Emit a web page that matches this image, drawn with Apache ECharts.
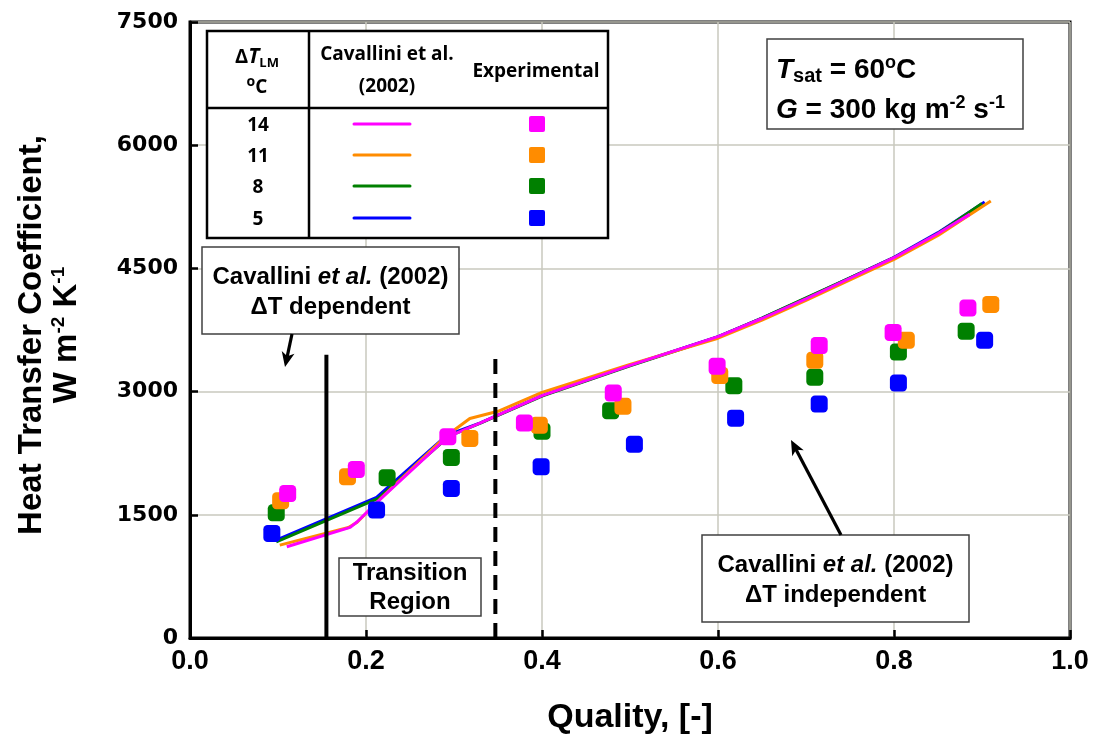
<!DOCTYPE html>
<html><head><meta charset="utf-8">
<script src="https://cdn.jsdelivr.net/npm/echarts@6/dist/echarts.min.js"></script>
<style>html,body{margin:0;padding:0;background:#fff}#c{width:1094px;height:749px}</style>
</head><body><div id="c"></div>
<script>
// ---- Data (quality x, heat transfer coefficient W m^-2 K^-1) ----
const expDT14 = [[0.111,1760],[0.189,2052],[0.293,2449],[0.380,2619],[0.481,2984],[0.599,3309],[0.715,3561],[0.799,3719],[0.884,4018]];
const expDT11 = [[0.103,1670],[0.179,1962],[0.318,2429],[0.397,2591],[0.492,2822],[0.602,3195],[0.710,3382],[0.814,3625],[0.910,4060]];
const expDT8  = [[0.098,1524],[0.224,1950],[0.297,2198],[0.400,2518],[0.478,2766],[0.618,3070],[0.710,3175],[0.805,3483],[0.882,3735]];
const expDT5  = [[0.093,1273],[0.212,1557],[0.297,1821],[0.399,2084],[0.505,2360],[0.620,2677],[0.715,2849],[0.805,3106],[0.903,3625]];

const cavDT14 = [[0.110,1111],[0.182,1347],[0.190,1415],[0.216,1687],[0.293,2450],[0.330,2620],[0.400,2950],[0.500,3320],[0.600,3670],[0.650,3890],[0.700,4130],[0.750,4380],[0.800,4630],[0.850,4925],[0.886,5158]];
const cavDT11 = [[0.102,1131],[0.180,1345],[0.190,1410],[0.216,1690],[0.290,2450],[0.318,2673],[0.350,2760],[0.400,2990],[0.500,3330],[0.600,3650],[0.650,3870],[0.700,4110],[0.750,4360],[0.800,4610],[0.850,4900],[0.910,5320]];
const cavDT8  = [[0.098,1170],[0.214,1700],[0.295,2460],[0.330,2615],[0.400,2945],[0.500,3315],[0.600,3665],[0.650,3895],[0.700,4140],[0.750,4385],[0.800,4630],[0.850,4925],[0.900,5290]];
const cavDT5  = [[0.098,1192],[0.212,1711],[0.292,2470],[0.330,2620],[0.400,2950],[0.500,3320],[0.600,3670],[0.650,3895],[0.700,4135],[0.750,4385],[0.800,4635],[0.850,4935],[0.903,5308]];

const solidBoundary  = [[0.155,0],[0.155,3450]];
const dashedBoundary = [[0.347,0],[0.347,3460]];

const legendRows = ['14','11','8','5'];
const colors = ['#FF00FF','#FF8C00','#008000','#0000FF'];

// ---- Chart ----
const chart = echarts.init(document.getElementById('c'), null, {renderer:'canvas'});
const AR = 'Liberation Sans, Arial, sans-serif';
const NAR = '"Liberation Sans Narrow", "Liberation Sans", Arial, sans-serif';
const CAL = '"Open Sans", Lato, sans-serif';

function lineSeries(name, data, color){
  return {name, type:'line', data, showSymbol:false, smooth:false, z:3,
    lineStyle:{color, width:3}, emphasis:{disabled:true}, silent:true};
}
function scatterSeries(name, data, color){
  return {name, type:'scatter', data, symbol:'roundRect', symbolSize:17, z:4,
    itemStyle:{color, opacity:1}, emphasis:{disabled:true}, silent:true};
}
function boundary(data, type){
  return {type:'line', data, showSymbol:false, z:5, silent:true,
    lineStyle:{color:'#000', width:4, type, cap:'butt'}};
}

const G = [];
function rect(x,y,w,h,stroke,lw){ G.push({type:'rect', z:100, shape:{x,y,width:w,height:h}, style:{fill:'#fff', stroke, lineWidth:lw}}); }
function seg(x1,y1,x2,y2,stroke,lw){ G.push({type:'line', z:101, shape:{x1,y1,x2,y2}, style:{stroke, lineWidth:lw}}); }
function txt(x,y,text,rich,align){
  G.push({type:'text', z:102, x, y, style:{text, rich, align:align||'center', verticalAlign:'middle', fill:'#000'}});
}
function arrow(x1,y1,x2,y2){
  const dx=x2-x1, dy=y2-y1, L=Math.hypot(dx,dy), ux=dx/L, uy=dy/L;
  const hl=15, hw=6.5;
  const bx=x2-ux*hl, by=y2-uy*hl;
  seg(x1,y1,x2-ux*6,y2-uy*6,'#000',3.2);
  G.push({type:'polygon', z:101, shape:{points:[[x2,y2],[bx-uy*hw,by+ux*hw],[bx+ux*4,by+uy*4],[bx+uy*hw,by-ux*hw]]}, style:{fill:'#000'}});
}

const bold24 = {b:{fontFamily:AR, fontWeight:'bold', fontSize:24}, i:{fontFamily:AR, fontWeight:'bold', fontStyle:'italic', fontSize:24}};

// Legend table
rect(207,31,401,207,'#000',2.5);
seg(207,108,608,108,'#000',2.5);
seg(309,31,309,238,'#000',2.5);
const cal = {
  n:{fontFamily:CAL, fontWeight:'bold', fontSize:19, lineHeight:26},
  d:{fontFamily:CAL, fontWeight:'bold', fontSize:20, lineHeight:26},
  it:{fontFamily:CAL, fontWeight:'bold', fontStyle:'italic', fontSize:21, lineHeight:26},
  sub:{fontFamily:CAL, fontWeight:'bold', fontSize:13, verticalAlign:'bottom', lineHeight:12},
  sup:{fontFamily:CAL, fontWeight:'bold', fontSize:14, verticalAlign:'top', lineHeight:12}};
txt(257,57,'{d|Δ}{it|T}{sub|LM}',cal);
txt(257,88,'{sup|o}{n|C}',cal);
txt(387,55,'{n|Cavallini et al.}',cal);
txt(387,87,'{n|(2002)}',cal);
txt(536,72,'{n|Experimental}',cal);
const rowY=[126,157,188,220];
legendRows.forEach((r,i)=>{
  txt(258,rowY[i],'{n|'+r+'}',cal);
  G.push({type:'line', z:101, shape:{x1:354,y1:rowY[i]-2,x2:410,y2:rowY[i]-2}, style:{stroke:colors[i], lineWidth:3, lineCap:'round'}});
  G.push({type:'rect', z:101, shape:{x:529,y:rowY[i]-10,width:16,height:16,r:2}, style:{fill:colors[i]}});
});

// Tsat box
rect(767,39,256,90,'#404040',1.5);
const big = {b:{fontFamily:AR, fontWeight:'bold', fontSize:28, lineHeight:32}, i:{fontFamily:AR, fontWeight:'bold', fontStyle:'italic', fontSize:28, lineHeight:32},
  sub:{fontFamily:AR, fontWeight:'bold', fontSize:20, verticalAlign:'bottom', lineHeight:8},
  sup:{fontFamily:AR, fontWeight:'bold', fontSize:18, verticalAlign:'top', lineHeight:12}};
txt(776,70,'{i|T}{sub|sat}{b| = 60}{sup|o}{b|C}',big,'left');
txt(776,110,'{i|G}{b| = 300 kg m}{sup|-2}{b| s}{sup|-1}',big,'left');

// Annotation boxes
rect(202,247,257,87,'#404040',1.5);
txt(330.5,277,'{b|Cavallini }{i|et al.}{b| (2002)}',bold24);
txt(330.5,307,'{b|ΔT dependent}',bold24);
arrow(292,334,285,367);

rect(339,558,142,58,'#404040',1.5);
txt(410,573,'{b|Transition}',bold24);
txt(410,602,'{b|Region}',bold24);

rect(702,535,267,87,'#404040',1.5);
txt(835.5,565,'{b|Cavallini }{i|et al.}{b| (2002)}',bold24);
txt(835.5,595,'{b|ΔT independent}',bold24);
arrow(841,535,791,440);

// Axis titles
const yt = {a:{fontFamily:NAR, fontWeight:'bold', fontSize:33, lineHeight:36}, s:{fontFamily:NAR, fontWeight:'bold', fontSize:19, verticalAlign:'top', lineHeight:14}};
G.push({type:'text', z:102, x:32, y:335, rotation:Math.PI/2, style:{text:'{a|Heat Transfer Coefficient,}', rich:yt, align:'center', verticalAlign:'middle', fill:'#000'}});
G.push({type:'text', z:102, x:67, y:335, rotation:Math.PI/2, style:{text:'{a|W m}{s|-2}{a| K}{s|-1}', rich:yt, align:'center', verticalAlign:'middle', fill:'#000'}});
G.push({type:'text', z:102, x:630, y:718, style:{text:'Quality, [-]', font:'bold 34px '+NAR, align:'center', verticalAlign:'middle', fill:'#000'}});

chart.setOption({
  animation:false,
  backgroundColor:'#fff',
  grid:{left:190, right:24, top:22, bottom:111, show:true, borderColor:'#000', borderWidth:3, backgroundColor:'transparent'},
  xAxis:{type:'value', min:0, max:1, interval:0.2,
    axisLine:{show:true, onZero:false, lineStyle:{color:'#000', width:3}},
    axisTick:{show:true, inside:true, length:8, lineStyle:{color:'#000', width:2.5}},
    axisLabel:{color:'#000', fontFamily:NAR, fontWeight:'bold', fontSize:27, margin:10, formatter:v=>v.toFixed(1)},
    splitLine:{show:true, lineStyle:{color:'#c8c8be', width:1.5}}},
  yAxis:{type:'value', min:0, max:7500, interval:1500,
    axisLine:{show:true, lineStyle:{color:'#000', width:3}},
    axisTick:{show:true, inside:true, length:8, lineStyle:{color:'#000', width:2.5}},
    axisLabel:{color:'#000', fontFamily:'DejaVu Sans', fontWeight:'bold', fontSize:22, margin:12, formatter:v=>String(v)},
    splitLine:{show:true, lineStyle:{color:'#c8c8be', width:1.5}}},
  series:[
    lineSeries('Cavallini 5', cavDT5, colors[3]),
    lineSeries('Cavallini 8', cavDT8, colors[2]),
    lineSeries('Cavallini 11', cavDT11, colors[1]),
    lineSeries('Cavallini 14', cavDT14, colors[0]),
    scatterSeries('Exp 5', expDT5, colors[3]),
    scatterSeries('Exp 8', expDT8, colors[2]),
    scatterSeries('Exp 11', expDT11, colors[1]),
    scatterSeries('Exp 14', expDT14, colors[0]),
    boundary(solidBoundary,'solid'),
    boundary(dashedBoundary,[15,9])
  ],
  graphic:G
});
</script></body></html>
